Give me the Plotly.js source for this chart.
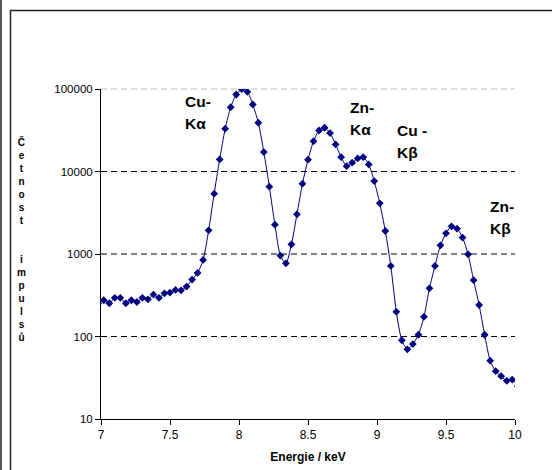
<!DOCTYPE html>
<html>
<head>
<meta charset="utf-8">
<script src="https://cdn.plot.ly/plotly-3.0.1.min.js"></script>
<style>html,body{margin:0;padding:0;background:#fff;}#chart{width:552px;height:470px;}</style>
</head>
<body>
<div id="chart"></div>
<script>
// ---- data ----
var energy = [6.98,7.02,7.06,7.10,7.14,7.18,7.22,7.26,7.30,7.34,7.38,7.42,7.46,7.50,7.54,7.58,7.62,7.66,7.70,7.74,
  7.78,7.82,7.86,7.90,7.94,7.98,8.02,8.06,8.10,8.14,8.18,8.22,8.26,8.30,8.34,8.38,8.42,8.46,8.50,8.54,
  8.58,8.62,8.66,8.70,8.74,8.78,8.82,8.86,8.90,8.94,8.98,9.02,9.06,9.10,9.14,9.18,9.22,9.26,9.30,9.34,
  9.38,9.42,9.46,9.50,9.54,9.58,9.62,9.66,9.70,9.74,9.78,9.82,9.86,9.90,9.94,9.98,10.02];
var counts = [251,275,253,294,294,253,275,262,294,282,322,294,334,341,367,363,403,490,589,847,
  1936,5387,14000,33000,60200,85800,99500,92500,64900,39000,17200,6550,2270,957,771,1310,3030,7120,13900,23300,
  31400,33900,29200,21300,14900,11600,12800,14400,14900,12200,7650,4110,1900,716,199,90,70,81,105,173,
  384,716,1275,1780,2165,2030,1580,991,481,241,105,51,38,33,29,30,25];
var xTickVals = [7, 7.5, 8, 8.5, 9, 9.5, 10];
var xTickText = ["7", "7.5", "8", "8.5", "9", "9.5", "10"];
var yTickVals = [10, 100, 1000, 10000, 100000];
var yTickText = ["10", "100", "1000", "10000", "100000"];
var peakLabels = [["Cu-", "Kα"], ["Zn-", "Kα"], ["Cu -", "Kβ"], ["Zn-", "Kβ"]];
var xTitle = "Energie / keV";
var yTitle = "Četnost impulsů";

// ---- layout helpers ----
var L = 101, T = 89, W = 414, H = 330;
function px(x) { return (x - L) / W; }
function py(y) { return (T + H - y) / H; }
var FONT = "Liberation Sans, Arial, sans-serif";

var labelPos = [[183, 101, 123], [348, 107, 129], [395, 130, 152], [488, 206, 229]];
var annotations = [];
peakLabels.forEach(function (lab, i) {
  var p = labelPos[i];
  annotations.push({xref: "paper", yref: "paper", x: px(p[0]), y: py(p[1]), xanchor: "left", yanchor: "middle",
    text: lab[0], showarrow: false, font: {family: FONT, size: 15.5, color: "#000", weight: "bold"}});
  annotations.push({xref: "paper", yref: "paper", x: px(p[0]), y: py(p[2]), xanchor: "left", yanchor: "middle",
    text: lab[1], showarrow: false, font: {family: FONT, size: 15.5, color: "#000", weight: "bold"}});
});
// vertical stacked y-axis title
var words = yTitle.split(" ");
var stacked = words.map(function (w) { return w.split("").join("<br>"); }).join("<br>\u00a0<br>\u00a0<br>");
annotations.push({xref: "paper", yref: "paper", x: px(21), y: py(240), xanchor: "center", yanchor: "middle",
  text: "<b>" + stacked + "</b>", showarrow: false, align: "center",
  font: {family: FONT, size: 10, color: "#000"}});

var shapes = [];
// grid lines
[[100, "#000"], [1000, "#000"], [10000, "#000"], [100000, "#c0c0c0"]].forEach(function (g) {
  var yp = (Math.log10(g[0]) - 1) / 4;
  shapes.push({type: "line", xref: "paper", yref: "paper", x0: 0, x1: 1, y0: yp, y1: yp, layer: "below",
    line: {color: g[1], width: 1, dash: "6px,4px"}});
});
// outer frame
shapes.push({type: "rect", xref: "paper", yref: "paper", x0: px(10.5), x1: px(600), y0: py(600), y1: py(10.5),
  layer: "below", line: {color: "#222", width: 1.5}});
shapes.push({type: "line", xref: "paper", yref: "paper", x0: px(1), x1: px(1), y0: py(600), y1: py(-10),
  layer: "below", line: {color: "#222", width: 1.5}});

var trace = {
  x: energy, y: counts, type: "scatter", mode: "lines+markers",
  line: {color: "#000080", width: 1, shape: "spline", smoothing: 0.7},
  marker: {symbol: "diamond", size: 6, color: "#000080"},
  hoverinfo: "x+y"
};

var layout = {
  width: 552, height: 470,
  margin: {l: L, r: 552 - L - W, t: T, b: 470 - T - H, pad: 0},
  paper_bgcolor: "#fff", plot_bgcolor: "rgba(0,0,0,0)",
  showlegend: false,
  font: {family: FONT, color: "#000"},
  xaxis: {
    range: [7, 10], tickvals: xTickVals, ticktext: xTickText,
    showgrid: false, zeroline: false, showline: true, linecolor: "#000", linewidth: 1,
    ticks: "outside", ticklen: 5, tickcolor: "#000", tickfont: {family: FONT, size: 12, color: "#000"},
    title: {text: xTitle, standoff: 11, font: {family: FONT, size: 12, color: "#000", weight: "bold"}}
  },
  yaxis: {
    type: "log", range: [1, 5], tickvals: yTickVals, ticktext: yTickText,
    showgrid: false, zeroline: false, showline: true, linecolor: "#000", linewidth: 1,
    ticks: "outside", ticklen: 5, tickcolor: "#000", tickfont: {family: FONT, size: 11.5, color: "#000"}
  },
  shapes: shapes,
  annotations: annotations
};

Plotly.newPlot("chart", [trace], layout, {displayModeBar: false, staticPlot: true});
</script>
</body>
</html>
